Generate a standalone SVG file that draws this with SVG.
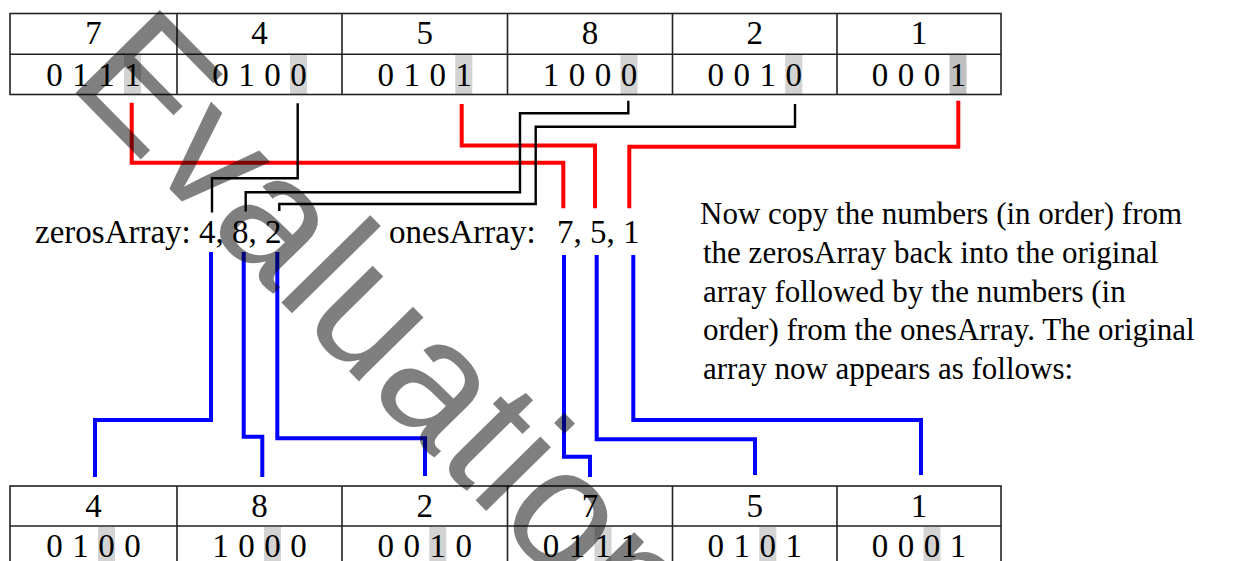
<svg xmlns="http://www.w3.org/2000/svg" width="1243" height="561" viewBox="0 0 1243 561">
<style>
.t{font-family:"Liberation Serif","Times New Roman",serif;font-size:33px;fill:#000}
.c{text-anchor:middle}
.b{word-spacing:1.3px}
.p{font-family:"Liberation Serif","Times New Roman",serif;font-size:31px;fill:#000}
.grid{fill:none;stroke:#222;stroke-width:1.6}
.hl{fill:#d3d3d3}
.red{fill:none;stroke:#ff0000;stroke-width:4}
.blue{fill:none;stroke:#0000ff;stroke-width:4}
.blk{fill:none;stroke:#000;stroke-width:2.4}
.wm{font-family:"Liberation Sans",Arial,sans-serif;font-size:172px;fill:#000;fill-opacity:0.5}
</style>
<rect width="1243" height="561" fill="#fff"/>
<g id="top-array">
  <rect class="hl" x="124" y="55" width="17" height="39"/>
  <rect class="hl" x="290" y="55" width="17" height="39"/>
  <rect class="hl" x="455.25" y="55" width="17" height="39"/>
  <rect class="hl" x="620.5" y="55" width="17" height="39"/>
  <rect class="hl" x="785.25" y="55" width="17" height="39"/>
  <rect x="949.5" y="55" width="17" height="39" fill="#c0c0c0"/>
  <rect class="grid" x="10" y="13.5" width="991" height="81"/>
  <path class="grid" d="M10 54.3H1001M177 13.5V94.5M342 13.5V94.5M507.5 13.5V94.5M672.5 13.5V94.5M837 13.5V94.5"/>
  <g id="top-cell-1"><text class="t c" x="93.5" y="44">7</text><text class="t c b" x="93.5" y="85.5">0 1 1 1</text></g>
  <g id="top-cell-2"><text class="t c" x="259.5" y="44">4</text><text class="t c b" x="259.5" y="85.5">0 1 0 0</text></g>
  <g id="top-cell-3"><text class="t c" x="424.75" y="44">5</text><text class="t c b" x="424.75" y="85.5">0 1 0 1</text></g>
  <g id="top-cell-4"><text class="t c" x="590" y="44">8</text><text class="t c b" x="590" y="85.5">1 0 0 0</text></g>
  <g id="top-cell-5"><text class="t c" x="754.75" y="44">2</text><text class="t c b" x="754.75" y="85.5">0 0 1 0</text></g>
  <g id="top-cell-6"><text class="t c" x="919" y="44">1</text><text class="t c b" x="919" y="85.5">0 0 0 1</text></g>
</g>
<g id="zerosArray"><text class="t" x="35" y="243">zerosArray: 4, 8, 2</text></g>
<g id="onesArray"><text class="t" x="389" y="243">onesArray:<tspan x="557">7, 5, 1</tspan></text></g>
<g id="explanation">
  <text class="p" x="700" y="224.3">Now copy the numbers (in order) from</text>
  <text class="p" x="703" y="263">the zerosArray back into the original</text>
  <text class="p" x="703" y="301.7">array followed by the numbers (in</text>
  <text class="p" x="703" y="340.4">order) from the onesArray. The original</text>
  <text class="p" x="703" y="379.1">array now appears as follows:</text>
</g>
<g id="bottom-array">
  <rect class="hl" x="98" y="527" width="17" height="40"/>
  <rect class="hl" x="264" y="527" width="17" height="40"/>
  <rect class="hl" x="429.25" y="527" width="17" height="40"/>
  <rect class="hl" x="594.5" y="527" width="17" height="40"/>
  <rect class="hl" x="759.25" y="527" width="17" height="40"/>
  <rect class="hl" x="923.5" y="527" width="17" height="40"/>
  <rect class="grid" x="10" y="486" width="991" height="81"/>
  <path class="grid" d="M10 526H1001M177 486V567M342 486V567M507.5 486V567M672.5 486V567M837 486V567"/>
  <g id="bottom-cell-1"><text class="t c" x="93.5" y="517">4</text><text class="t c b" x="93.5" y="556.5">0 1 0 0</text></g>
  <g id="bottom-cell-2"><text class="t c" x="259.5" y="517">8</text><text class="t c b" x="259.5" y="556.5">1 0 0 0</text></g>
  <g id="bottom-cell-3"><text class="t c" x="424.75" y="517">2</text><text class="t c b" x="424.75" y="556.5">0 0 1 0</text></g>
  <g id="bottom-cell-4"><text class="t c" x="590" y="517">7</text><text class="t c b" x="590" y="556.5">0 1 1 1</text></g>
  <g id="bottom-cell-5"><text class="t c" x="754.75" y="517">5</text><text class="t c b" x="754.75" y="556.5">0 1 0 1</text></g>
  <g id="bottom-cell-6"><text class="t c" x="919" y="517">1</text><text class="t c b" x="919" y="556.5">0 0 0 1</text></g>
</g>
<g id="connectors">
  <path class="red" d="M131.7 102.7V162.7H563.3V208.3"/>
  <path class="red" d="M461.7 104V145.5H595V208.3"/>
  <path class="red" d="M958.3 100.7V146.7H629.3V208.3"/>
  <path class="blk" d="M297.7 103.3V178.3H212V212.5"/>
  <path class="blk" d="M628.3 100.7V113.3H520V192.3H245.7V211.5"/>
  <path class="blk" d="M795 104V126.7H535.7V204H279.3V211"/>
  <path class="blue" d="M211 252V420H95V477"/>
  <path class="blue" d="M243.7 252V436.7H262.3V477"/>
  <path class="blue" d="M277.3 252V438.3H425V476"/>
  <path class="blue" d="M564 255V456.7H590V477"/>
  <path class="blue" d="M596.7 255V439.3H755V475"/>
  <path class="blue" d="M633.3 255V420H921V475"/>
</g>
<text class="wm" transform="translate(65.4,82.9) rotate(45.5)">Evaluation</text>
</svg>
